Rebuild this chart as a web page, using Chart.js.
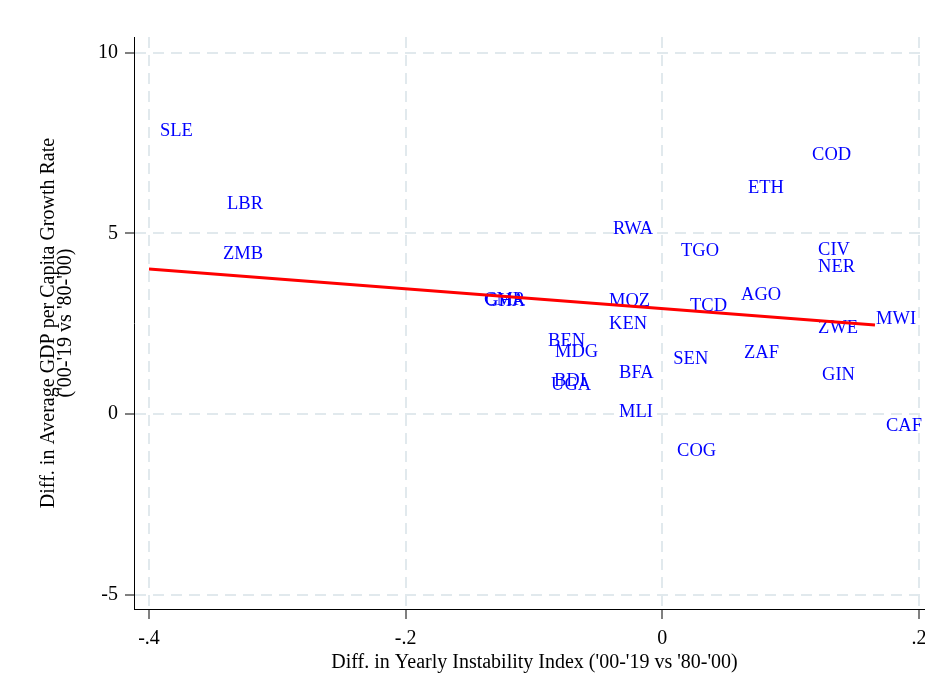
<!DOCTYPE html>
<html>
<head>
<meta charset="utf-8">
<script src="https://cdn.jsdelivr.net/npm/chart.js@4/dist/chart.umd.min.js"></script>
<style>
  html, body { margin: 0; padding: 0; background: #ffffff; overflow: hidden; }
  #wrap { width: 925px; height: 700px; overflow: hidden; }
  canvas { display: block; }
</style>
</head>
<body>
<div id="wrap"><canvas id="c" width="935" height="700"></canvas></div>
<script>
// Country codes and their changes ('00-'19 vs '80-'00)
const countries = ['SLE','LBR','ZMB','CMR','GHA','RWA','TGO','ETH','COD','CIV','NER','AGO','MOZ','KEN','TCD','ZWE','MWI','BEN','MDG','ZAF','SEN','BFA','GIN','BDI','UGA','MLI','COG','CAF'];
const instabilityDiff = [-0.400,-0.3478,-0.3509,-0.1475,-0.1467,-0.0470,0.0060,0.0582,0.1081,0.1128,0.1128,0.0528,-0.0501,-0.0501,0.0130,0.1128,0.1580,-0.0976,-0.0922,0.0551,0.000,-0.0423,0.1159,-0.0930,-0.0953,-0.0423,0.0029,0.1657];
const growthDiff = [7.86,5.84,4.46,3.18,3.16,5.15,4.54,6.28,7.20,4.57,4.10,3.32,3.16,2.52,3.02,2.41,2.66,2.05,1.74,1.72,1.55,1.16,1.11,0.94,0.83,0.08,-1.00,-0.30];

// Fitted line end points
const fitX = [-0.400, 0.1657];
const fitY = [4.01, 2.46];

// Axis ticks
const xTicks = [-0.4, -0.2, 0, 0.2];
const xTickLabels = ['-.4', '-.2', '0', '.2'];
const yTicks = [-5, 0, 5, 10];
const yTickLabels = ['-5', '0', '5', '10'];

const serif = '"Liberation Serif", "Times New Roman", serif';

// Country code drawn to the right of each (invisible) point
const pointLabels = {
  id: 'pointLabels',
  beforeDatasetsDraw(chart) {
    const meta = chart.getDatasetMeta(1);
    const ctx = chart.ctx;
    ctx.save();
    ctx.font = '18.5px ' + serif;
    ctx.fillStyle = '#0000ff';
    ctx.textBaseline = 'middle';
    ctx.textAlign = 'left';
    meta.data.forEach((pt, i) => {
      ctx.fillText(countries[i], pt.x + 11, pt.y + 1.5);
    });
    ctx.restore();
  }
};

const whiteBg = {
  id: 'whiteBg',
  beforeDraw(chart) {
    const ctx = chart.ctx;
    ctx.save();
    ctx.fillStyle = '#ffffff';
    ctx.fillRect(0, 0, chart.width, chart.height);
    ctx.restore();
  }
};

const gridColor = '#e1e9ed';

new Chart(document.getElementById('c'), {
  type: 'scatter',
  data: {
    datasets: [
      {
        type: 'line',
        data: fitX.map((x, i) => ({ x: x, y: fitY[i] })),
        borderColor: '#ff0000',
        borderWidth: 3,
        pointRadius: 0,
        fill: false,
        tension: 0
      },
      {
        data: instabilityDiff.map((x, i) => ({ x: x, y: growthDiff[i] })),
        pointRadius: 0,
        pointHoverRadius: 0,
        showLine: false
      }
    ]
  },
  options: {
    responsive: false,
    animation: false,
    devicePixelRatio: 1,
    layout: { padding: { top: 37, left: 0, right: 0, bottom: 0 } },
    plugins: {
      legend: { display: false },
      tooltip: { enabled: false }
    },
    scales: {
      x: {
        type: 'linear',
        min: -0.41169,
        max: 0.21247,
        afterBuildTicks(scale) { scale.ticks = xTicks.map(v => ({ value: v })); },
        afterFit(scale) { scale.height = 91; scale.paddingLeft = 0; scale.paddingRight = 0; },
        ticks: {
          callback: (v) => xTickLabels[xTicks.indexOf(v)],
          font: { family: serif, size: 20 },
          color: '#000000',
          padding: 8,
          maxRotation: 0,
          autoSkip: false
        },
        grid: {
          color: gridColor,
          lineWidth: 2,
          drawTicks: true,
          tickLength: 10,
          tickColor: '#000000',
          tickWidth: 1
        },
        border: { display: true, color: '#000000', width: 1, dash: [11, 7] },
        title: {
          display: true,
          text: "Diff. in Yearly Instability Index ('00-'19 vs '80-'00)",
          font: { family: serif, size: 20, lineHeight: 1.2 },
          color: '#000000',
          padding: { top: 0, bottom: 25 }
        }
      },
      y: {
        type: 'linear',
        min: -5.396,
        max: 10.43,
        afterBuildTicks(scale) { scale.ticks = yTicks.map(v => ({ value: v })); },
        afterFit(scale) { scale.width = 134; scale.paddingTop = 0; scale.paddingBottom = 0; },
        ticks: {
          callback: (v) => yTickLabels[yTicks.indexOf(v)],
          font: { family: serif, size: 20 },
          color: '#000000',
          padding: 7,
          autoSkip: false
        },
        grid: {
          color: gridColor,
          lineWidth: 2,
          drawTicks: true,
          tickLength: 9,
          tickColor: '#000000',
          tickWidth: 1
        },
        border: { display: true, color: '#000000', width: 1, dash: [11, 7] },
        title: {
          display: true,
          text: ['Diff. in Average GDP per Capita Growth Rate', "('00-'19 vs '80-'00)"],
          font: { family: serif, size: 20, lineHeight: 0.85 },
          color: '#000000',
          padding: { top: 40, bottom: 0 }
        }
      }
    }
  },
  plugins: [whiteBg, pointLabels]
});
</script>
</body>
</html>
